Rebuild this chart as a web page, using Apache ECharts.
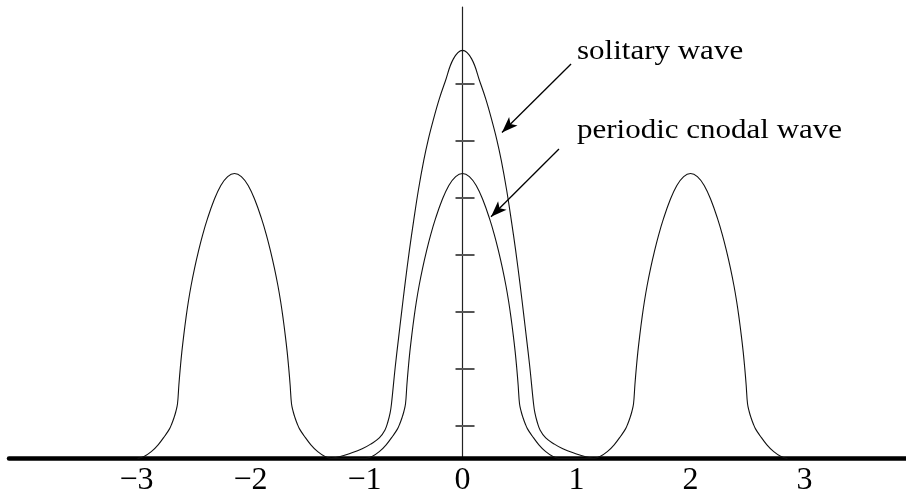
<!DOCTYPE html>
<html>
<head>
<meta charset="utf-8">
<style>
  html, body { margin: 0; padding: 0; background: #ffffff; }
  #chart { width: 906px; height: 492px; }
</style>
<script src="https://cdn.jsdelivr.net/npm/echarts@6/dist/echarts.min.js"></script>
</head>
<body>
<div id="chart"></div>
<script>
// Tick positions
const xTickValues = [-3, -2, -1, 0, 1, 2, 3];
const yTickValues = [0.58, 1.58, 2.58, 3.58, 4.58, 5.58, 6.58];

// One crest of the periodic (cnoidal) wave: offset from crest centre and height
const crestCentres = [-2, 0, 2];
const crestOffsets = [0, 0.06, 0.12, 0.18, 0.235, 0.28, 0.317, 0.35, 0.381, 0.405, 0.425, 0.445, 0.462, 0.475, 0.488, 0.50, 0.515, 0.53, 0.55, 0.57, 0.61, 0.67, 0.73, 0.79, 0.85];
const crestHeights = [5.0, 4.946, 4.79, 4.53, 4.22, 3.92, 3.63, 3.34, 3.03, 2.75, 2.475, 2.165, 1.87, 1.60, 1.29, 0.96, 0.82, 0.72, 0.61, 0.52, 0.40, 0.24, 0.12, 0.04, 0];

// Solitary wave profile, right half (the wave is symmetric about x = 0)
const solitaryOffsets = [0, 0.08, 0.154, 0.205, 0.255, 0.30, 0.34, 0.387, 0.43, 0.466, 0.505, 0.537, 0.56, 0.59, 0.623, 0.635, 0.655, 0.68, 0.73, 0.80, 0.88, 1.0, 1.08, 1.15];
const solitaryHeights = [7.16, 7.01, 6.6, 6.3, 5.95, 5.6, 5.23, 4.71, 4.15, 3.65, 3.05, 2.52, 2.13, 1.61, 0.96, 0.80, 0.64, 0.50, 0.36, 0.26, 0.17, 0.08, 0.03, 0];

// Annotation labels and their arrows (tail -> head), in axis units
const labelTexts = ['solitary wave', 'periodic cnodal wave'];
const labelAnchors = [[1.004, 7.13], [1.004, 5.75]];
const arrowTails = [[0.952, 6.92], [0.846, 5.43]];
const arrowHeads = [[0.346, 5.72], [0.25, 4.24]];

function mirrored(offsets, heights, centre) {
  const pts = [];
  for (let i = offsets.length - 1; i > 0; i--) pts.push([centre - offsets[i], heights[i]]);
  for (let i = 0; i < offsets.length; i++) pts.push([centre + offsets[i], heights[i]]);
  return pts;
}

const periodicData = [];
crestCentres.forEach(c => { mirrored(crestOffsets, crestHeights, c).forEach(p => periodicData.push(p)); });
const solitaryData = mirrored(solitaryOffsets, solitaryHeights, 0);

const serif = 'Liberation Serif, Times New Roman, serif';
const X_MIN = -3.978, X_MAX = 3.89;
const Y_MAX = 7.92;

const chart = echarts.init(document.getElementById('chart'), null, { renderer: 'canvas' });

function buildOption(tickOffset) {
  return {
    animation: false,
    backgroundColor: '#ffffff',
    grid: { left: 9, right: 0, top: 7, bottom: 33.5, containLabel: false, outerBoundsMode: 'none' },
    xAxis: {
      type: 'value',
      min: X_MIN,
      max: X_MAX,
      axisLine: { show: true, onZero: true, lineStyle: { color: '#000', width: 4.5 } },
      axisTick: { show: false },
      splitLine: { show: false },
      axisLabel: {
        show: true,
        customValues: xTickValues,
        margin: 6,
        color: '#000',
        fontFamily: serif,
        fontSize: 32,
        formatter: function (v) {
          if (v < 0) return '{neg|\u2212' + Math.abs(v) + '}';
          return String(v);
        },
        rich: {
          neg: { fontFamily: serif, fontSize: 32, color: '#000', padding: [0, 0, 0, 32] }
        }
      }
    },
    yAxis: [
      {
        type: 'value',
        min: 0,
        max: Y_MAX,
        axisLine: { show: true, onZero: true, lineStyle: { color: '#222', width: 1.2 } },
        axisTick: { show: true, inside: true, length: 12, customValues: yTickValues, lineStyle: { color: '#555', width: 2 } },
        axisLabel: { show: false },
        splitLine: { show: false }
      },
      {
        // short outward half of the ticks on the vertical axis through x = 0
        type: 'value',
        min: 0,
        max: Y_MAX,
        position: 'left',
        offset: tickOffset,
        axisLine: { show: false, onZero: false },
        axisTick: { show: true, inside: false, length: 7, customValues: yTickValues, lineStyle: { color: '#555', width: 2 } },
        axisLabel: { show: false },
        splitLine: { show: false }
      }
    ],
    series: [
      {
        name: 'solitary wave',
        type: 'line',
        data: solitaryData,
        showSymbol: false,
        smooth: 0.4,
        lineStyle: { color: '#111', width: 1.1 },
        z: 3
      },
      {
        name: 'periodic cnodal wave',
        type: 'line',
        data: periodicData,
        showSymbol: false,
        smooth: 0.4,
        lineStyle: { color: '#111', width: 1.1 },
        z: 3,
        markLine: {
          silent: true,
          symbol: ['none', 'arrow'],
          symbolSize: [9, 16],
          label: { show: false },
          lineStyle: { color: '#000', width: 1.3, type: 'solid' },
          data: arrowTails.map((t, i) => [{ coord: t }, { coord: arrowHeads[i] }])
        }
      }
    ]
  };
}

chart.setOption(buildOption(0));

// Move the outward tick set onto x = 0 and place the annotation text
const zeroPx = chart.convertToPixel({ gridIndex: 0 }, [0, 0]);
const opt = buildOption(-(zeroPx[0] - 9));
opt.graphic = labelTexts.map((t, i) => {
  const p = chart.convertToPixel({ gridIndex: 0 }, labelAnchors[i]);
  return {
    type: 'text',
    x: p[0],
    y: p[1],
    scaleX: 1.17,
    silent: true,
    style: {
      text: t,
      x: 0,
      y: 0,
      fill: '#000',
      fontFamily: serif,
      fontSize: 26.5,
      align: 'left',
      verticalAlign: 'middle'
    }
  };
});
chart.setOption(opt, true);
</script>
</body>
</html>
